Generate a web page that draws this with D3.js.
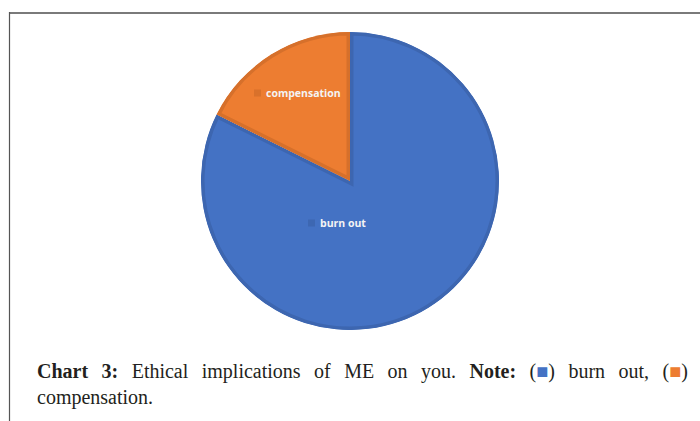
<!DOCTYPE html>
<html><head><meta charset="utf-8">
<script src="https://cdn.jsdelivr.net/npm/d3@7"></script>
<style>
html,body{margin:0;padding:0;background:#fff;}
svg{display:block;}
</style></head>
<body>
<script>
const categories = ["burn out", "compensation"];
const values = [14, 3];
const colors = ["#4472C4", "#ED7D31"];
const borders = ["#3D66B0", "#D6702B"];

const W = 700, H = 421;
const svg = d3.select("body").append("svg").attr("width", W).attr("height", H);

// frame
svg.append("line").attr("x1", 9).attr("x2", 700).attr("y1", 13).attr("y2", 13)
  .attr("stroke", "#7a7a7a").attr("stroke-width", 2);
svg.append("line").attr("x1", 9.5).attr("x2", 9.5).attr("y1", 12).attr("y2", 421)
  .attr("stroke", "#555").attr("stroke-width", 1.2);

const cx = 350, cy = 181, r = 149;
const data = categories.map((c, i) => ({cat: c, value: values[i], i}));
const pie = d3.pie().value(d => d.value).sort(null);
const arcs = pie(data);
const arc = d3.arc().innerRadius(0).outerRadius(r);

const g = svg.append("g").attr("transform", `translate(${cx},${cy})`);
const defs = svg.append("defs");
arcs.forEach((a, i) => {
  defs.append("clipPath").attr("id", "clip" + i).append("path").attr("d", arc(a));
});
g.selectAll("path.slice").data(arcs).join("path")
  .attr("class", "slice")
  .attr("d", arc)
  .attr("fill", d => colors[d.data.i])
  .attr("stroke", d => borders[d.data.i])
  .attr("stroke-width", 7)
  .attr("clip-path", d => `url(#clip${d.data.i})`);

// labels
const labelPos = [[-30, 42], [-84, -88]];
arcs.forEach((a, i) => {
  const [lx, ly] = labelPos[i];
  g.append("rect").attr("x", lx - 12).attr("y", ly - 3.5).attr("width", 7).attr("height", 7)
    .attr("fill", borders[i]).attr("opacity", 0.9);
  g.append("text").attr("x", lx).attr("y", ly)
    .attr("dy", "0.35em")
    .attr("font-family", "'Open Sans', 'DejaVu Sans', sans-serif")
    .attr("font-weight", "bold").attr("font-size", 10.5)
    .attr("fill", "#f4f4f4")
    .text(a.data.cat);
});

// caption (first line justified to the right edge)
const cap = svg.append("text").attr("font-family", "'Liberation Serif', 'Times New Roman', serif")
  .attr("font-size", 20).attr("fill", "#231f20");
const l1 = cap.append("tspan").attr("x", 37).attr("y", 378);
l1.append("tspan").attr("font-weight", "bold").text("Chart 3:");
l1.append("tspan").text(" Ethical implications of ME on you. ");
l1.append("tspan").attr("font-weight", "bold").text("Note:");
l1.append("tspan").text(" (");
l1.append("tspan").attr("fill", colors[0]).text("■");
l1.append("tspan").text(") burn out, (");
l1.append("tspan").attr("fill", colors[1]).text("■");
l1.append("tspan").text(")");
const len = l1.node().getComputedTextLength();
const nSpaces = 12;
const ws = Math.max(0, (651 - len) / nSpaces);
l1.attr("word-spacing", ws);
cap.append("tspan").attr("x", 37).attr("y", 404).text("compensation.");
</script>
</body></html>
